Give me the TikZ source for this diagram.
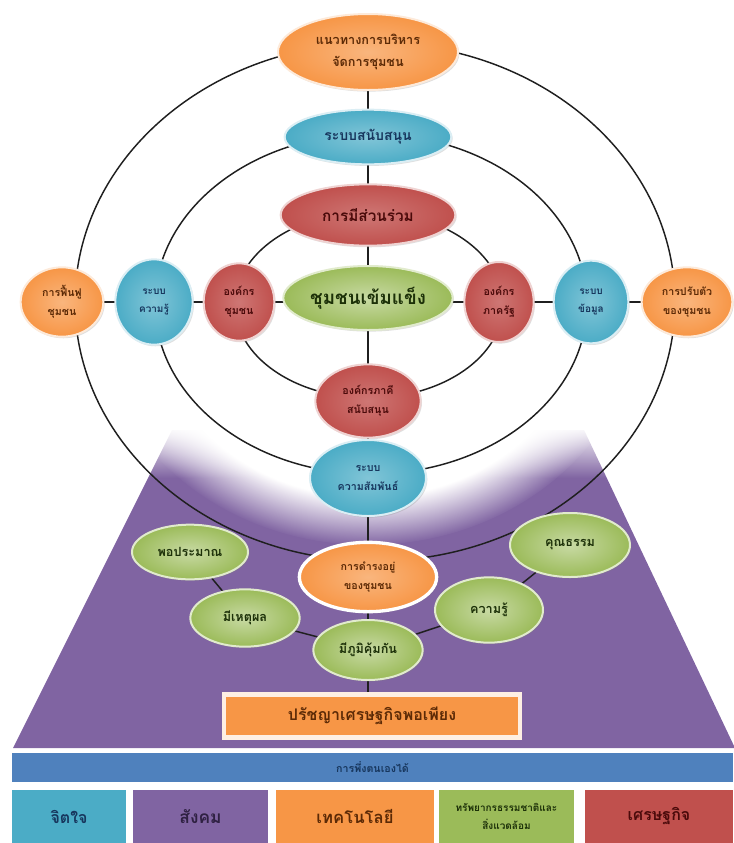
\documentclass[tikz,border=0pt]{standalone}
\usepackage{fontspec}
\newfontfamily\thai[Script=Thai]{Loma}
\usetikzlibrary{shapes.geometric,shadows,fadings}
\definecolor{cOr}{HTML}{F79646}
\definecolor{cBl}{HTML}{4BACC6}
\definecolor{cRd}{HTML}{C0504D}
\definecolor{cGr}{HTML}{9BBB59}
\definecolor{cPu}{HTML}{8064A2}
\definecolor{cBar}{HTML}{4F81BD}
\definecolor{tOr}{HTML}{5C2A06}
\definecolor{tBl}{HTML}{17365D}
\definecolor{tRd}{HTML}{4A0A0A}
\definecolor{tGr}{HTML}{1C3008}
\definecolor{tPu}{HTML}{2F2142}
\pgfdeclarelayer{back}
\pgfdeclarelayer{lines}
\pgfsetlayers{back,lines,main}
\tikzset{
  bub/.style={ellipse, inner sep=0pt, align=center, line width=1.5pt,
    drop shadow={opacity=0.25, shadow xshift=1pt, shadow yshift=-1.2pt}},
  cor/.style={bub, inner color=cOr!70!white, outer color=cOr, draw=cOr!20!white, text=tOr},
  cbl/.style={bub, inner color=cBl!70!white, outer color=cBl, draw=cBl!20!white, text=tBl},
  crd/.style={bub, inner color=cRd!78!white, outer color=cRd, draw=cRd!25!white, text=tRd},
  cgr/.style={bub, inner color=cGr!55!white, outer color=cGr, draw=cGr!30!white, text=tGr},
  sz/.style 2 args={minimum width=#1, minimum height=#2},
  fs/.style 2 args={font=\thai\bfseries\fontsize{#1}{#2}\selectfont},
  ring/.style={draw=black!88, line width=1.1pt},
  bbox/.style={rectangle, inner sep=0pt, minimum height=39.75pt, align=center}
}
\begin{document}
\begin{tikzpicture}[x=0.75pt,y=-0.75pt]
\useasboundingbox (0,0) rectangle (733,843);

% nodes
\node[cor, sz={135pt}{57pt}, fs={9.5pt}{16pt}] (top) at (368,52) {แนวทางการบริหาร\\จัดการชุมชน};
\node[cbl, sz={125pt}{41pt}, fs={10.5pt}{14pt}] (sup) at (368,137) {ระบบสนับสนุน};
\node[crd, sz={131pt}{46pt}, fs={11.5pt}{16pt}] (part) at (368,215) {การมีส่วนร่วม};
\node[cgr, sz={127pt}{48pt}, fs={14pt}{18pt}] (core) at (368,298) {ชุมชนเข้มแข็ง};

\node[cor, sz={62pt}{52pt}, fs={8pt}{14pt}] (lo) at (62,302) {การฟื้นฟู\\ชุมชน};
\node[cbl, sz={58pt}{64pt}, fs={7.5pt}{14pt}] (lk) at (154,302) {ระบบ\\ความรู้};
\node[crd, sz={53pt}{58pt}, fs={8pt}{14pt}] (lorg) at (239,302) {องค์กร\\ชุมชน};
\node[crd, sz={52pt}{60pt}, fs={8pt}{14pt}] (rorg) at (499,302) {องค์กร\\ภาครัฐ};
\node[cbl, sz={56pt}{62pt}, fs={7.5pt}{14pt}] (rinfo) at (591,302) {ระบบ\\ข้อมูล};
\node[cor, sz={68pt}{52pt}, fs={8pt}{14pt}] (ro) at (687,302) {การปรับตัว\\ของชุมชน};

\node[crd, sz={79pt}{55pt}, fs={8pt}{14pt}] (bp) at (368,401) {องค์กรภาคี\\สนับสนุน};
\node[cbl, sz={87pt}{57pt}, fs={8pt}{14pt}] (br) at (368,478) {ระบบ\\ความสัมพันธ์};
\node[cor, sz={103pt}{52pt}, fs={8pt}{14pt}, draw=white, line width=2.5pt] (exist) at (368,577) {การดำรงอยู่\\ของชุมชน};

\node[cgr, sz={87pt}{41pt}, fs={9.5pt}{12pt}] (poe) at (190,552) {พอประมาณ};
\node[cgr, sz={82pt}{43pt}, fs={9.5pt}{12pt}] (mee) at (245,618) {มีเหตุผล};
\node[cgr, sz={82pt}{45pt}, fs={9.5pt}{12pt}] (phum) at (368,650) {มีภูมิคุ้มกัน};
\node[cgr, sz={81pt}{49pt}, fs={9.5pt}{12pt}] (khwam) at (489,610) {ความรู้};
\node[cgr, sz={90pt}{48pt}, fs={9.5pt}{12pt}] (khun) at (570,545) {คุณธรรม};

\node[rectangle, fill=cOr, draw=cOr!15!white, line width=3.5pt, minimum width=222pt, minimum height=32.5pt, text=tOr, fs={12pt}{14pt}] (box) at (372,716) {ปรัชญาเศรษฐกิจพอเพียง};

\node[rectangle, fill=cBar, minimum width=540.75pt, minimum height=21.75pt, inner sep=0pt, text=tBl, fs={8pt}{10pt}] (bar) at (372.5,767.5) {การพึ่งตนเองได้};

\node[bbox, fill=cBl, minimum width=85.5pt, text=tBl, fs={12pt}{14pt}] (b1) at (69,816.5) {จิตใจ};
\node[bbox, fill=cPu, minimum width=101.25pt, text=tPu, fs={13pt}{14pt}] (b2) at (200.5,816.5) {สังคม};
\node[bbox, fill=cOr, minimum width=118.5pt, text=tOr, fs={12.5pt}{14pt}] (b3) at (355,816.5) {เทคโนโลยี};
\node[bbox, fill=cGr, minimum width=101.25pt, text=tGr, fs={7.5pt}{13pt}] (b4) at (506.5,816.5) {ทรัพยากรธรรมชาติและ\\สิ่งแวดล้อม};
\node[bbox, fill=cRd, minimum width=111pt, text=tRd, fs={12pt}{14pt}] (b5) at (659,816.5) {เศรษฐกิจ};

% connectors
\begin{pgfonlayer}{lines}
  \draw[ring] (375,302) ellipse [x radius=300, y radius=259];
  \draw[ring] (371,304) ellipse [x radius=216, y radius=170];
  \draw[ring] (369,305) ellipse [x radius=134, y radius=93];
  \draw[ring] (top) -- (top |- box.north);
  \draw[ring] (lo) -- (ro);
  \draw[ring] (poe) -- (mee);
  \draw[ring] (mee) -- (phum);
  \draw[ring] (phum) -- (khwam);
  \draw[ring] (khwam) -- (khun);
\end{pgfonlayer}

% background
\begin{pgfonlayer}{back}
  \fill[cPu] (172,430) -- (584,430) -- (735,748) -- (13,748) -- cycle;
  \fill[white, path fading=circle with fuzzy edge 20 percent] (368,300) ellipse [x radius=275, y radius=245];
  \fill[white, path fading=south] (0,426) rectangle (733,478);
\end{pgfonlayer}
\end{tikzpicture}
\end{document}
